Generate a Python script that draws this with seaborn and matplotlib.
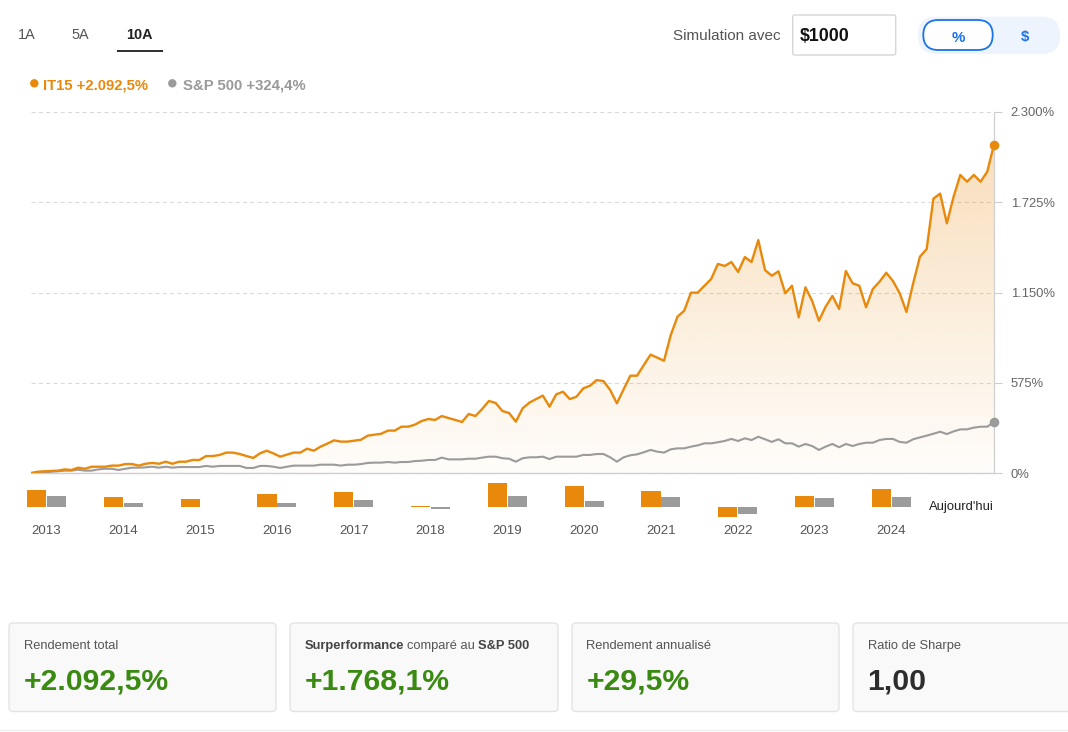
import numpy as np
import pandas as pd
import matplotlib
matplotlib.use("Agg")
import matplotlib.pyplot as plt
import seaborn as sns
from matplotlib.patches import FancyBboxPatch, Circle, Rectangle
from matplotlib.ticker import FuncFormatter
from matplotlib.transforms import blended_transform_factory

# ---------------- data ----------------
it15_values = [
    0, 8, 11, 13, 15, 23, 19, 34, 27, 40, 40, 40, 47, 47, 57, 57, 47, 59, 64, 59,
    72, 59, 72, 72, 83, 83, 108, 108, 115, 130, 130, 121, 108, 96, 125, 142, 125, 104,
    117, 130, 130, 155, 142, 168, 187, 208, 200, 200, 206, 212, 238, 244, 250, 270,
    270, 295, 295, 308, 331, 344, 338, 363, 350, 338, 325, 376, 363, 408, 459, 446,
    395, 382, 327,
    412, 448, 471, 493, 423, 501, 518, 471, 486, 539, 556, 592, 586, 529, 444, 533,
    620, 620, 688, 754, 735, 715, 879, 996, 1034, 1149, 1149, 1193, 1236, 1332, 1319,
    1344, 1281, 1376, 1344, 1484,
    1293, 1257, 1285, 1145, 1193, 992, 1183, 1096, 970, 1060, 1128, 1045, 1287, 1209,
    1193, 1056, 1172, 1219, 1276, 1223, 1145, 1026, 1209, 1378, 1427, 1748, 1780,
    1591, 1760, 1899, 1856, 1899, 1856, 1920, 2092.5,
]
sp500_values = [
    0, 2, 5, 8, 11, 15, 15, 21, 15, 15, 23, 27, 27, 19, 27, 34, 34, 36, 40, 34,
    40, 34, 38, 38, 38, 38, 45, 40, 45, 45, 45, 45, 32, 32, 45, 45, 40, 32,
    40, 47, 47, 47, 47, 53, 53, 53, 47, 53, 53, 57, 64, 66, 66, 70, 66, 70, 70, 76,
    78, 83, 83, 98, 87, 87, 87, 91, 91, 98, 104, 104, 94, 91, 72,
    94, 100, 100, 104, 89, 104, 104, 104, 104, 115, 115, 121, 121, 100, 72, 100, 113,
    119, 132, 147, 136, 130, 151, 157, 157, 168, 176, 189, 189, 196, 204, 217, 204,
    221, 210, 231,
    215, 198, 215, 189, 189, 168, 185, 172, 147, 168, 185, 164, 185, 172, 185, 193,
    193, 210, 217, 217, 198, 193, 215, 227, 238, 250, 263, 248, 265, 278, 278, 289,
    295, 295, 324.4,
]
years = [2013, 2014, 2015, 2016, 2017, 2018, 2019, 2020, 2021, 2022, 2023, 2024]
it15_annual = [46, 25, 21, 35, 41, 1, 63, 57, 43, -28, 29.5, 49]
sp500_annual = [29.6, 10.2, -1.5, 10.2, 18.5, -5.6, 29.6, 15.7, 26.8, -19.4, 24, 26.8]
y_ticks = [0, 575, 1150, 1725, 2300]

series_names = ["IT15", "S&P 500"]
legend_labels = ["IT15 +2.092,5%", "S&P 500 +324,4%"]
tab_labels = ["1A", "5A", "10A"]
card_titles = ["Rendement total", None, "Rendement annualisé", "Ratio de Sharpe"]
card_values = ["+2.092,5%", "+1.768,1%", "+29,5%", "1,00"]

# ---------------- style ----------------
ORANGE = "#E8890B"
GRAY = "#9B9B9B"
GREEN = "#3A8A12"
BLUE = "#1A73E8"

sns.set_theme(style="white")
plt.rcParams["font.family"] = ["Liberation Sans", "DejaVu Sans"]

W, H = 1068, 732
fig = plt.figure(figsize=(W / 100, H / 100), dpi=100)
fig.patch.set_facecolor("white")


def rect(x0, y0, x1, y1):
    return [x0 / W, 1 - y1 / H, (x1 - x0) / W, (y1 - y0) / H]


bg = fig.add_axes([0, 0, 1, 1])
bg.set_xlim(0, W)
bg.set_ylim(H, 0)
bg.axis("off")

# ---------------- main chart ----------------
ax = fig.add_axes(rect(31, 112, 994, 473))
ax.set_facecolor("none")
n = len(it15_values)
x = np.arange(n)
it = np.array(it15_values, dtype=float)
sp = np.array(sp500_values, dtype=float)

# gradient fill under IT15
poly = ax.fill_between(x, it, 0, facecolor="none", edgecolor="none")
path = poly.get_paths()[0]
orange_rgb = matplotlib.colors.to_rgb(ORANGE)
alpha = np.linspace(0.30, 0.02, 256)
grad = np.zeros((256, 1, 4))
grad[:, 0, :3] = orange_rgb
grad[:, 0, 3] = alpha
im = ax.imshow(grad, extent=[0, n - 1, 0, y_ticks[-1]], aspect="auto",
               origin="upper", zorder=1, interpolation="bilinear")
im.set_clip_path(path, ax.transData)

sns.lineplot(x=x, y=sp, ax=ax, color=GRAY, linewidth=1.5, zorder=3)
sns.lineplot(x=x, y=it, ax=ax, color=ORANGE, linewidth=1.7, zorder=4)
ax.scatter([x[-1]], [it[-1]], s=48, color=ORANGE, zorder=5, clip_on=False, linewidths=0)
ax.scatter([x[-1]], [sp[-1]], s=48, color=GRAY, zorder=5, clip_on=False, linewidths=0)

ax.set_xlim(0, n - 1)
ax.set_ylim(0, y_ticks[-1])
ax.set_xticks([])
ax.set_xlabel("")
ax.set_ylabel("")
ax.yaxis.tick_right()
ax.set_yticks(y_ticks)
ax.yaxis.set_major_formatter(
    FuncFormatter(lambda v, p: f"{int(round(v)):,}".replace(",", ".") + "%"))
ax.tick_params(axis="y", length=6, width=0.8, color="#cccccc",
               labelcolor="#666666", labelsize=9.4, pad=6)
ax.grid(axis="y", color="#d9d9d9", linestyle=(0, (4, 3)), linewidth=0.75)
ax.grid(axis="x", visible=False)
for s in ["top", "left"]:
    ax.spines[s].set_visible(False)
ax.spines["right"].set_color("#d0d0d0")
ax.spines["right"].set_linewidth(0.9)
ax.spines["bottom"].set_color("#cfcfcf")
ax.spines["bottom"].set_linewidth(1.0)

# ---------------- annual bars ----------------
axb = fig.add_axes(rect(18, 480.76, 994, 521.68))
axb.set_facecolor("none")
df_bar = pd.DataFrame({
    "year": [str(y) for y in years] * 2,
    "ret": it15_annual + sp500_annual,
    "series": [series_names[0]] * len(years) + [series_names[1]] * len(years),
})
sns.barplot(data=df_bar, x="year", y="ret", hue="series",
            palette={series_names[0]: ORANGE, series_names[1]: GRAY},
            width=0.52, gap=0.04, saturation=1, linewidth=0,
            ax=axb, legend=False)
axb.set_xlim(-(46.5 - 18) / 76.8, 12.337)
axb.set_ylim(-40, 70)
axb.axis("off")
trans = blended_transform_factory(axb.transData, bg.transData)
for i, yr in enumerate(years):
    axb.text(i, 533.5, str(yr), transform=trans, ha="center", va="baseline",
             fontsize=9.5, color="#555555", clip_on=False)
axb.text(len(years) - 0.09, 0, "Aujourd'hui", ha="center", va="center",
         fontsize=9.4, color="#222222", clip_on=False)

# ---------------- header ----------------
tab_x = [18.3, 71.7, 126]
for lab, tx in zip(tab_labels, tab_x):
    active = lab == "10A"
    bg.text(tx, 39.3, lab, fontsize=10.4, va="baseline",
            color="#222222" if active else "#555555",
            fontweight="bold" if active else "normal")
bg.add_patch(Rectangle((117, 49.8), 46, 2, color="#333333", lw=0))

bg.add_patch(Circle((34.3, 83.3), 4.2, color=ORANGE, lw=0))
bg.text(43.3, 89, legend_labels[0], fontsize=10.7, fontweight="bold",
        color=ORANGE, va="baseline")
bg.add_patch(Circle((172.3, 83.3), 4.2, color=GRAY, lw=0))
bg.text(183.3, 89, legend_labels[1], fontsize=10.7, fontweight="bold",
        color="#999999", va="baseline")

bg.text(673.3, 40, "Simulation avec", fontsize=11, color="#555555", va="baseline")
bg.add_patch(FancyBboxPatch((792.7, 15), 103, 40,
                            boxstyle="round,pad=0,rounding_size=2",
                            fc="white", ec="#d6d6d6", lw=1))
bg.text(800, 41, "$1000", fontsize=12.8, fontweight="bold", color="#111111",
        va="baseline")
bg.add_patch(FancyBboxPatch((918, 16.7), 142, 37.3,
                            boxstyle="round,pad=0,rounding_size=18.5",
                            fc="#edf4fd", ec="none"))
bg.add_patch(FancyBboxPatch((923.3, 20), 69.4, 30,
                            boxstyle="round,pad=0,rounding_size=15",
                            fc="white", ec=BLUE, lw=1.3))
bg.text(958, 41.5, "%", fontsize=10.8, fontweight="bold", color=BLUE,
        ha="center", va="baseline")
bg.text(1025, 41.5, "$", fontsize=10.8, fontweight="bold", color=BLUE,
        ha="center", va="baseline")

# ---------------- cards ----------------
cards_x = [(9, 276), (290, 558), (572, 839), (853, 1080)]
for (x0, x1), title, val in zip(cards_x, card_titles, card_values):
    bg.add_patch(FancyBboxPatch((x0, 623), x1 - x0, 88.5,
                                boxstyle="round,pad=0,rounding_size=4",
                                fc="#f9f9f9", ec="#e4e4e4", lw=1, clip_on=False))
    tx = x0 + 14.5
    if title is not None:
        bg.text(tx, 649.3, title, fontsize=9.3, color="#555555", va="baseline")
    bg.text(tx, 690, val, fontsize=21.7, fontweight="bold",
            color="#2d2d2d" if val == "1,00" else GREEN, va="baseline")

# mixed-weight title for card 2
fig.canvas.draw()
renderer = fig.canvas.get_renderer()
cx = cards_x[1][0] + 14.5
parts = [("Surperformance", "bold", "#444444"), ("comparé au", "normal", "#555555"),
         ("S&P 500", "bold", "#444444")]
for txt, wt, col in parts:
    t = bg.text(cx, 649.3, txt, fontsize=9.3, fontweight=wt, color=col, va="baseline")
    bb = t.get_window_extent(renderer)
    cx += bb.width + 3.3

bg.plot([0, W], [729.5, 729.5], color="#eeeeee", lw=1)

fig.savefig("out.png", dpi=100, facecolor="white")
